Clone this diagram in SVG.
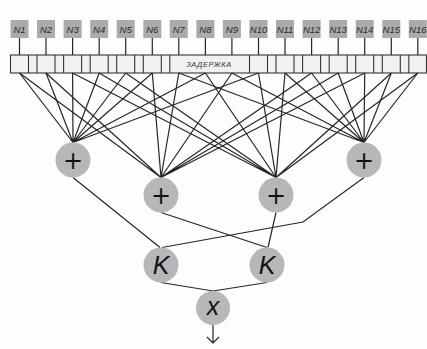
<svg xmlns="http://www.w3.org/2000/svg" width="427" height="349" viewBox="0 0 427 349">
<style>
.bg{fill:#fdfdfd}
.nb{fill:#ababab}
.nt{font-family:"Liberation Sans",Arial,sans-serif;font-style:italic;font-size:9.5px;fill:#2a2a2a;text-anchor:middle}
.ln{stroke:#262626;stroke-width:1.2;fill:none}
.bar{fill:#f1f1f1;stroke:#333;stroke-width:1.1}
.dv{stroke:#333;stroke-width:1.1}
.cir{fill:#b7b7b7}
.op{font-family:"DejaVu Sans",sans-serif;font-size:24px;fill:#111;text-anchor:middle}
.opi{font-family:"Liberation Sans",Arial,sans-serif;font-style:italic;font-size:25px;fill:#111;text-anchor:middle}
</style>
<rect class="bg" x="0" y="0" width="427" height="349"/>
<g id="delay">
<rect class="bar" x="10.5" y="55" width="416" height="18"/>
<g class="dv">
<line x1="28.5" y1="55" x2="28.5" y2="73"/><line x1="37" y1="55" x2="37" y2="73"/>
<line x1="55" y1="55" x2="55" y2="73"/><line x1="63.6" y1="55" x2="63.6" y2="73"/>
<line x1="81.6" y1="55" x2="81.6" y2="73"/><line x1="90.2" y1="55" x2="90.2" y2="73"/>
<line x1="108.2" y1="55" x2="108.2" y2="73"/><line x1="116.7" y1="55" x2="116.7" y2="73"/>
<line x1="134.7" y1="55" x2="134.7" y2="73"/><line x1="143.3" y1="55" x2="143.3" y2="73"/>
<line x1="161.3" y1="55" x2="161.3" y2="73"/><line x1="169.8" y1="55" x2="169.8" y2="73"/>
<line x1="249.5" y1="55" x2="249.5" y2="73"/><line x1="267.5" y1="55" x2="267.5" y2="73"/>
<line x1="276" y1="55" x2="276" y2="73"/><line x1="294" y1="55" x2="294" y2="73"/>
<line x1="302.6" y1="55" x2="302.6" y2="73"/><line x1="320.6" y1="55" x2="320.6" y2="73"/>
<line x1="329.2" y1="55" x2="329.2" y2="73"/><line x1="347.2" y1="55" x2="347.2" y2="73"/>
<line x1="355.7" y1="55" x2="355.7" y2="73"/><line x1="373.7" y1="55" x2="373.7" y2="73"/>
<line x1="382.3" y1="55" x2="382.3" y2="73"/><line x1="400.3" y1="55" x2="400.3" y2="73"/>
<line x1="408.8" y1="55" x2="408.8" y2="73"/>
</g>
<text x="209" y="67" font-family="Liberation Sans, Arial, sans-serif" font-style="italic" font-size="7.5" fill="#333" text-anchor="middle" letter-spacing="0.6">ЗАДЕРЖКА</text>
</g>
<g id="taps">
<g id="n1"><rect class="nb" x="10.5" y="20" width="18" height="18"/><text class="nt" x="19.5" y="32.5">N1</text><line class="ln" x1="19.5" y1="38" x2="19.5" y2="55"/></g>
<g id="n2"><rect class="nb" x="37" y="20" width="18" height="18"/><text class="nt" x="46" y="32.5">N2</text><line class="ln" x1="46" y1="38" x2="46" y2="55"/></g>
<g id="n3"><rect class="nb" x="63.6" y="20" width="18" height="18"/><text class="nt" x="72.6" y="32.5">N3</text><line class="ln" x1="72.6" y1="38" x2="72.6" y2="55"/></g>
<g id="n4"><rect class="nb" x="90.2" y="20" width="18" height="18"/><text class="nt" x="99.2" y="32.5">N4</text><line class="ln" x1="99.2" y1="38" x2="99.2" y2="55"/></g>
<g id="n5"><rect class="nb" x="116.7" y="20" width="18" height="18"/><text class="nt" x="125.7" y="32.5">N5</text><line class="ln" x1="125.7" y1="38" x2="125.7" y2="55"/></g>
<g id="n6"><rect class="nb" x="143.3" y="20" width="18" height="18"/><text class="nt" x="152.3" y="32.5">N6</text><line class="ln" x1="152.3" y1="38" x2="152.3" y2="55"/></g>
<g id="n7"><rect class="nb" x="169.8" y="20" width="18" height="18"/><text class="nt" x="178.8" y="32.5">N7</text><line class="ln" x1="178.8" y1="38" x2="178.8" y2="55"/></g>
<g id="n8"><rect class="nb" x="196.4" y="20" width="18" height="18"/><text class="nt" x="205.4" y="32.5">N8</text><line class="ln" x1="205.4" y1="38" x2="205.4" y2="55"/></g>
<g id="n9"><rect class="nb" x="222.9" y="20" width="18" height="18"/><text class="nt" x="231.9" y="32.5">N9</text><line class="ln" x1="231.9" y1="38" x2="231.9" y2="55"/></g>
<g id="n10"><rect class="nb" x="249.5" y="20" width="18" height="18"/><text class="nt" x="258.5" y="32.5">N10</text><line class="ln" x1="258.5" y1="38" x2="258.5" y2="55"/></g>
<g id="n11"><rect class="nb" x="276" y="20" width="18" height="18"/><text class="nt" x="285" y="32.5">N11</text><line class="ln" x1="285" y1="38" x2="285" y2="55"/></g>
<g id="n12"><rect class="nb" x="302.6" y="20" width="18" height="18"/><text class="nt" x="311.6" y="32.5">N12</text><line class="ln" x1="311.6" y1="38" x2="311.6" y2="55"/></g>
<g id="n13"><rect class="nb" x="329.2" y="20" width="18" height="18"/><text class="nt" x="338.2" y="32.5">N13</text><line class="ln" x1="338.2" y1="38" x2="338.2" y2="55"/></g>
<g id="n14"><rect class="nb" x="355.7" y="20" width="18" height="18"/><text class="nt" x="364.7" y="32.5">N14</text><line class="ln" x1="364.7" y1="38" x2="364.7" y2="55"/></g>
<g id="n15"><rect class="nb" x="382.3" y="20" width="18" height="18"/><text class="nt" x="391.3" y="32.5">N15</text><line class="ln" x1="391.3" y1="38" x2="391.3" y2="55"/></g>
<g id="n16"><rect class="nb" x="408.8" y="20" width="18" height="18"/><text class="nt" x="417.8" y="32.5">N16</text><line class="ln" x1="417.8" y1="38" x2="417.8" y2="55"/></g>
</g>
<g id="connectors" class="ln">
<path d="M19.5 73L73 142.5M46 73L73 142.5M72.6 73L73 142.5M99.2 73L73 142.5M125.7 73L73 142.5M152.3 73L73 142.5M205.4 73L73 142.5M258.5 73L73 142.5"/>
<path d="M178.8 73L364 142.5M231.9 73L364 142.5M285 73L364 142.5M311.6 73L364 142.5M338.2 73L364 142.5M364.7 73L364 142.5M391.3 73L364 142.5M417.8 73L364 142.5"/>
<path d="M19.5 73L161 177.5M46 73L161 177.5M152.3 73L161 177.5M178.8 73L161 177.5M231.9 73L161 177.5M311.6 73L161 177.5M338.2 73L161 177.5M364.7 73L161 177.5"/>
<path d="M72.6 73L276 177.5M99.2 73L276 177.5M125.7 73L276 177.5M205.4 73L276 177.5M258.5 73L276 177.5M285 73L276 177.5M391.3 73L276 177.5M417.8 73L276 177.5"/>
<path d="M73 177.5L160 247.5M161 212.5L267 247.5M276 212.5L268 247.5M364 177.5L303 222L162 247.5M161 282.5L213 291M267 282.5L213 291M213 325L213 343M207 337L213 343L219 337"/>
</g>
<g id="plus1"><circle class="cir" cx="73" cy="160" r="17.5"/><text class="op" x="73" y="168.5">+</text></g>
<g id="plus2"><circle class="cir" cx="161" cy="195" r="17.5"/><text class="op" x="161" y="203.5">+</text></g>
<g id="plus3"><circle class="cir" cx="276" cy="195" r="17.5"/><text class="op" x="276" y="203.5">+</text></g>
<g id="plus4"><circle class="cir" cx="364" cy="160" r="17.5"/><text class="op" x="364" y="168.5">+</text></g>
<g id="k1"><circle class="cir" cx="161" cy="265" r="17.5"/><text class="opi" x="161" y="274">K</text></g>
<g id="k2"><circle class="cir" cx="267" cy="265" r="17.5"/><text class="opi" x="267" y="274">K</text></g>
<g id="mul"><circle class="cir" cx="213" cy="308" r="17"/><text class="opi" x="213" y="315">x</text></g>
</svg>
